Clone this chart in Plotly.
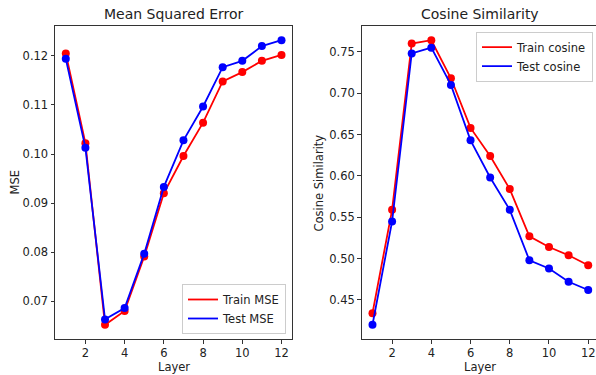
import plotly.graph_objects as go

# Per-layer probe results
layers = list(range(1, 13))
train_mse = [0.1205, 0.1022, 0.0652, 0.0680, 0.0791, 0.0920, 0.0996, 0.1064, 0.1148, 0.1167, 0.1190, 0.1202]
test_mse = [0.1194, 0.1013, 0.0663, 0.0686, 0.0797, 0.0933, 0.1028, 0.1097, 0.1177, 0.1190, 0.1220, 0.1232]
train_cos = [0.434, 0.559, 0.760, 0.764, 0.718, 0.658, 0.624, 0.584, 0.527, 0.514, 0.504, 0.492]
test_cos = [0.420, 0.545, 0.748, 0.755, 0.710, 0.643, 0.598, 0.559, 0.498, 0.488, 0.472, 0.462]

mse_ticks = [0.07, 0.08, 0.09, 0.10, 0.11, 0.12]
cos_ticks = [0.45, 0.50, 0.55, 0.60, 0.65, 0.70, 0.75]
layer_ticks = [2, 4, 6, 8, 10, 12]

W, H = 596, 375
FONT = "DejaVu Sans"
RED, BLUE = "#ff0000", "#0000ff"

fig = go.Figure()


def add_series(x, y, color, name, xa, ya, legend):
    fig.add_trace(go.Scatter(
        x=x, y=y, mode="lines+markers", xaxis=xa, yaxis=ya,
        line=dict(color=color, width=1.8),
        marker=dict(color=color, size=8),
        showlegend=False, hoverinfo="skip"))
    # legend entry drawn as a plain line sample
    fig.add_trace(go.Scatter(
        x=[None], y=[None], mode="lines", xaxis=xa, yaxis=ya, name=name,
        line=dict(color=color, width=1.8), legend=legend))


add_series(layers, train_mse, RED, "Train MSE", "x", "y", "legend")
add_series(layers, test_mse, BLUE, "Test MSE", "x", "y", "legend")
add_series(layers, train_cos, RED, "Train cosine", "x2", "y2", "legend2")
add_series(layers, test_cos, BLUE, "Test cosine", "x2", "y2", "legend2")


def span(lo, hi, pad=0.05):
    r = hi - lo
    return [lo - pad * r, hi + pad * r]


axis_common = dict(
    showgrid=False, zeroline=False, showline=True, linecolor="#333",
    linewidth=1, ticks="outside", ticklen=3.5, tickcolor="#333",
    tickfont=dict(family=FONT, size=11.5, color="#222"),
)

y_dom = [(H - 339) / H, (H - 26) / H]
left_dom = [55 / W, 292.3 / W]
right_dom = [361.7 / W, 1.0]
px_per_layer = (292.3 - 55) / 12.1
right_hi = 0.45 + (W - 361.7) / px_per_layer

mse_all = train_mse + test_mse
cos_all = train_cos + test_cos

fig.update_layout(
    width=W, height=H,
    margin=dict(l=0, r=0, t=0, b=0),
    paper_bgcolor="white", plot_bgcolor="white",
    font=dict(family=FONT, color="#222"),
    xaxis=dict(domain=left_dom, range=[0.45, 12.55], tickvals=layer_ticks,
               anchor="y", mirror=True, **axis_common),
    yaxis=dict(domain=y_dom, range=span(min(mse_all), max(mse_all)),
               tickvals=mse_ticks, tickformat=".2f", anchor="x", mirror=True,
               **axis_common),
    xaxis2=dict(domain=right_dom, range=[0.45, right_hi], tickvals=layer_ticks,
                anchor="y2", mirror=True, **axis_common),
    yaxis2=dict(domain=y_dom, range=span(min(cos_all), max(cos_all)),
                tickvals=cos_ticks, tickformat=".2f", anchor="x2", mirror=False,
                **axis_common),
    legend=dict(
        x=286 / W, y=(H - 334) / H, xanchor="right", yanchor="bottom",
        xref="paper", yref="paper",
        bgcolor="rgba(255,255,255,0.8)", bordercolor="#cccccc", borderwidth=1,
        font=dict(family=FONT, size=11.5, color="#222"),
        itemwidth=30, tracegroupgap=0),
    legend2=dict(
        x=593 / W, y=(H - 31.7) / H, xanchor="right", yanchor="top",
        xref="paper", yref="paper",
        bgcolor="rgba(255,255,255,0.8)", bordercolor="#cccccc", borderwidth=1,
        font=dict(family=FONT, size=11.5, color="#222"),
        itemwidth=30, tracegroupgap=0),
)

# Titles and axis labels
annotations = [
    dict(text="Mean Squared Error", x=(left_dom[0] + left_dom[1]) / 2, y=(H - 14) / H,
         yanchor="middle", font=dict(size=14)),
    dict(text="Cosine Similarity", x=(right_dom[0] + 598 / W) / 2, y=(H - 14) / H,
         yanchor="middle", font=dict(size=14)),
    dict(text="Layer", x=(left_dom[0] + left_dom[1]) / 2, y=0.0,
         yanchor="bottom", borderpad=0, font=dict(size=11.5)),
    dict(text="Layer", x=(right_dom[0] + 598 / W) / 2, y=0.0,
         yanchor="bottom", borderpad=0, font=dict(size=11.5)),
    dict(text="MSE", x=14 / W, y=(y_dom[0] + y_dom[1]) / 2, textangle=-90,
         yanchor="middle", font=dict(size=11.5)),
    dict(text="Cosine Similarity", x=318 / W, y=(y_dom[0] + y_dom[1]) / 2,
         textangle=-90, yanchor="middle", font=dict(size=11.5)),
]
for a in annotations:
    a.update(xref="paper", yref="paper", showarrow=False, xanchor="center")
    a["font"].update(family=FONT, color="#222")
fig.update_layout(annotations=annotations)

fig.write_html("out.html")
